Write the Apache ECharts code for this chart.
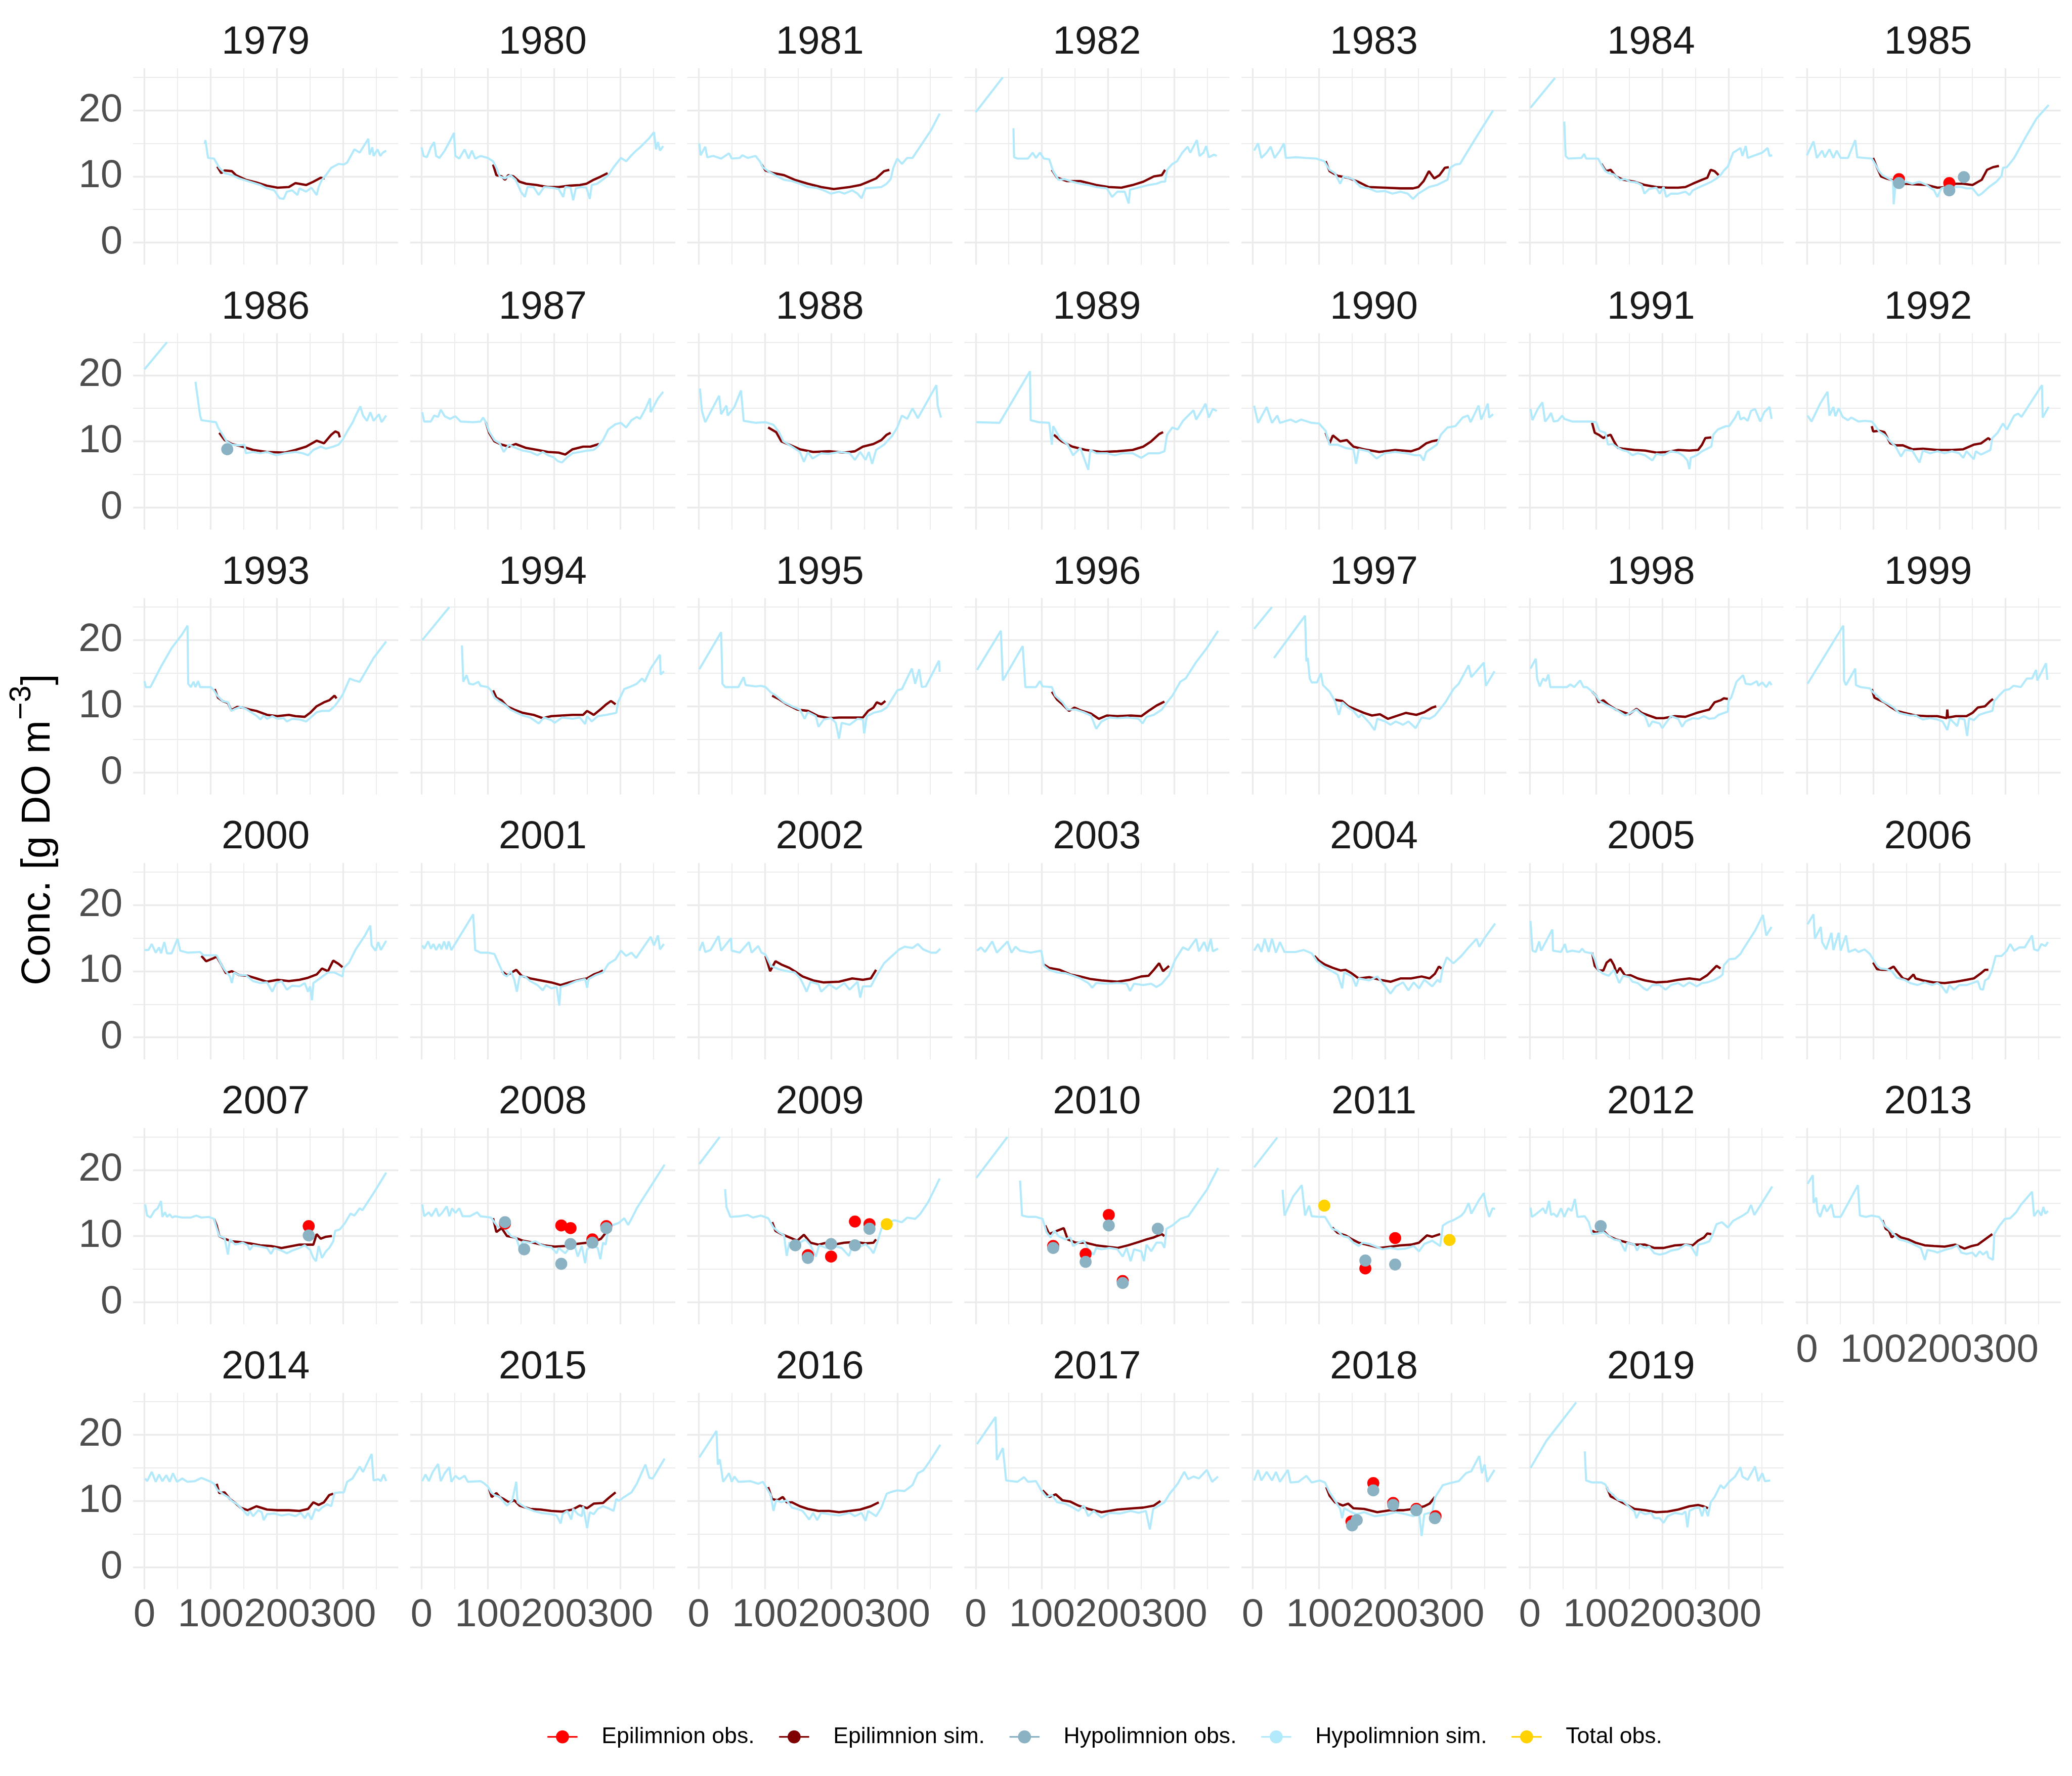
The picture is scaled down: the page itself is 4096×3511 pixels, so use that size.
<!DOCTYPE html>
<html><head><meta charset="utf-8">
<script src="https://cdn.jsdelivr.net/npm/echarts@6/dist/echarts.min.js"></script>
<style>html,body{margin:0;padding:0;background:#fff}#c{width:4096px;height:3511px}</style>
</head><body><div id="c"></div>
<script>
// ---------- DATA (day of year, g DO m-3) ----------
var years = [1979,1980,1981,1982,1983,1984,1985,1986,1987,1988,1989,1990,1991,1992,1993,1994,1995,1996,1997,1998,1999,2000,2001,2002,2003,2004,2005,2006,2007,2008,2009,2010,2011,2012,2013,2014,2015,2016,2017,2018,2019];
var xTicks = [0,100,200,300];
var xMinor = [50,150,250,350];
var yTicks = [0,10,20];
var yMinor = [5,15,25];
var seriesNames = ['Epilimnion obs.','Epilimnion sim.','Hypolimnion obs.','Hypolimnion sim.','Total obs.'];

var H1979=[[91,14.9],[92,15.5],[96,12.8],[105,12.7],[113,11.3],[121,10.5],[132,10.2],[143,9.7],[159,9.2],[175,8.7],[185,8.2],[196,7.9],[204,6.7],[210,6.6],[215,7.7],[223,7.9],[231,7.2],[234,8.2],[244,7.7],[252,8.3],[260,7.2],[263,8.4],[268,9.5],[274,10.2],[282,11.3],[293,11.9],[301,11.8],[306,12.1],[317,14.1],[325,13.6],[333,14.9],[338,15.7],[340,13.3],[344,14.4],[346,13.1],[352,14.1],[356,13.1],[360,13.6],[365,13.9]];
var E1979=[[110,11.5],[116,10.5],[121,10.9],[132,10.8],[138,10.2],[153,9.5],[169,9.1],[185,8.6],[201,8.3],[218,8.4],[228,9.0],[244,8.7],[255,9.2],[266,9.8],[272,9.7]];
var H1980=[[0,14.4],[3,13.1],[8,12.9],[14,14.4],[19,15.2],[22,13.1],[27,12.8],[35,13.9],[43,15.4],[49,16.6],[51,13.1],[57,12.7],[65,14.1],[71,12.7],[76,13.9],[81,12.7],[89,13.1],[100,12.8],[108,12.3],[113,11.3],[118,10.0],[126,9.7],[134,10.2],[142,9.5],[150,7.7],[156,6.9],[160,8.4],[169,8.4],[177,7.2],[185,8.4],[196,8.3],[207,8.1],[214,6.9],[217,8.4],[225,8.3],[229,6.4],[233,8.2],[241,8.4],[249,8.3],[254,6.6],[257,8.7],[265,8.9],[276,9.7],[282,10.2],[290,11.4],[301,12.8],[309,12.3],[316,13.1],[324,13.9],[330,14.4],[335,14.9],[343,15.7],[351,16.7],[354,14.1],[357,15.2],[360,13.9],[365,14.6]];
var E1980=[[108,11.8],[113,10.2],[121,10.0],[126,9.5],[131,10.2],[139,10.0],[148,9.2],[158,8.9],[174,8.7],[190,8.4],[207,8.4],[223,8.6],[239,8.7],[249,8.9],[260,9.5],[271,10.0],[281,10.5]];
var H1981=[[1,15.0],[3,13.2],[10,14.5],[13,12.9],[22,13.1],[34,12.7],[46,13.5],[50,12.7],[62,12.8],[66,13.2],[74,12.8],[86,13.1],[93,12.2],[97,11.4],[105,10.8],[117,10.1],[129,9.5],[141,9.3],[153,8.9],[165,8.4],[177,8.3],[189,7.9],[200,7.4],[212,7.7],[220,7.4],[232,7.9],[240,7.4],[246,6.7],[252,8.2],[264,8.3],[276,8.4],[284,8.9],[290,9.6],[294,11.3],[300,12.7],[307,11.9],[315,12.8],[323,12.8],[339,15.2],[351,17.0],[364,19.5]];
var E1981=[[95,11.8],[101,10.9],[113,10.5],[129,10.2],[145,9.5],[165,8.9],[185,8.4],[204,8.1],[228,8.4],[244,8.7],[256,9.2],[268,9.7],[280,10.8],[288,11.0]];
var H1982=[[0,19.7],[41,25.0],[42,null],[57,17.3],[58,12.9],[63,12.7],[79,12.7],[86,13.6],[91,12.8],[97,13.6],[103,12.7],[111,12.6],[117,10.8],[125,9.5],[134,9.6],[146,9.2],[158,8.9],[170,8.7],[182,8.4],[198,8.2],[206,6.9],[214,7.7],[225,7.7],[231,5.9],[233,8.0],[245,8.3],[261,8.7],[273,8.9],[281,9.2],[286,9.2],[289,11.0],[296,11.8],[304,12.3],[312,13.6],[320,14.5],[324,13.6],[334,15.5],[338,13.1],[344,13.6],[348,14.6],[352,12.9],[360,13.3],[364,13.1]];
var E1982=[[115,11.0],[123,9.8],[138,9.3],[158,9.3],[182,8.7],[201,8.4],[220,8.3],[237,8.7],[253,9.2],[269,10.0],[281,10.2],[286,11.0]];
var H1983=[[2,13.9],[8,15.0],[13,12.8],[21,13.6],[27,14.5],[33,12.8],[41,13.9],[47,15.0],[50,12.8],[65,12.9],[80,12.8],[96,12.7],[108,12.3],[116,11.0],[124,10.5],[132,8.9],[137,10.0],[151,9.6],[163,8.4],[175,8.2],[187,7.7],[199,7.8],[211,7.4],[223,7.7],[234,7.4],[242,6.6],[250,7.4],[258,7.9],[266,8.4],[278,8.7],[294,9.5],[298,11.3],[306,11.8],[313,11.9],[325,13.9],[341,16.5],[363,20.0]];
var E1983=[[110,12.3],[116,10.8],[128,10.1],[144,9.8],[159,9.2],[175,8.4],[199,8.3],[223,8.2],[242,8.2],[250,8.4],[258,9.3],[266,10.8],[274,9.7],[282,10.2],[290,11.3],[296,11.4]];
var H1984=[[1,20.4],[38,24.9],[39,null],[52,18.3],[54,13.1],[58,12.7],[78,12.8],[82,13.4],[85,12.7],[103,12.7],[108,11.8],[114,10.8],[119,10.5],[127,10.3],[136,9.5],[144,9.6],[152,9.2],[161,9.1],[169,8.7],[173,7.4],[180,8.1],[191,8.3],[196,7.4],[202,8.4],[206,6.9],[213,7.4],[224,7.4],[235,7.7],[241,7.2],[246,7.9],[254,8.3],[263,8.7],[274,9.2],[282,9.7],[288,10.2],[293,10.9],[299,11.5],[302,12.3],[307,13.6],[312,13.9],[318,14.3],[321,13.1],[326,14.6],[329,12.8],[340,13.2],[351,13.6],[359,14.3],[362,13.1],[366,13.2]];
var E1984=[[108,11.9],[115,10.8],[122,11.0],[130,10.0],[141,9.5],[158,9.2],[174,8.7],[191,8.4],[208,8.3],[224,8.3],[235,8.4],[246,8.9],[260,9.5],[268,9.8],[273,11.0],[279,10.8],[285,10.2]];
var H1985=[[0,13.2],[10,15.3],[15,12.8],[23,13.9],[27,12.9],[34,14.1],[40,12.8],[45,13.9],[51,12.8],[62,12.8],[73,15.5],[76,12.9],[87,12.8],[98,12.7],[103,11.9],[109,10.8],[114,10.2],[123,9.7],[130,9.3],[131,5.8],[134,8.9],[142,8.9],[150,9.2],[159,8.9],[170,9.2],[181,8.7],[192,7.9],[197,6.9],[203,8.2],[214,8.6],[225,8.4],[233,8.4],[241,8.2],[250,8.2],[259,7.1],[264,7.4],[275,8.4],[286,9.2],[294,10.1],[296,11.3],[302,11.4],[313,12.8],[330,15.9],[347,18.8],[365,20.8]];
var E1985=[[100,12.8],[106,11.3],[112,10.0],[120,9.7],[137,9.2],[148,8.9],[164,8.8],[181,8.7],[197,8.3],[211,8.4],[225,8.9],[236,8.9],[250,8.7],[264,9.5],[272,11.0],[281,11.4],[290,11.6]];
var EO1985=[[139,9.6],[215,9.0]];
var HO1985=[[139,9.0],[215,7.9],[237,9.9]];
var H1986=[[0,20.9],[34,25.0],[35,null],[77,19.0],[84,13.9],[86,13.2],[100,13.0],[108,12.9],[111,12.1],[118,11.0],[124,10.0],[132,9.5],[143,9.4],[151,9.5],[153,8.2],[164,8.4],[175,8.2],[185,8.4],[199,7.9],[212,8.2],[228,8.4],[239,8.2],[247,7.9],[255,8.7],[266,9.2],[274,8.9],[285,9.2],[293,9.5],[299,10.2],[306,11.5],[314,12.8],[319,13.9],[326,15.3],[330,13.9],[336,13.1],[341,14.4],[346,13.1],[354,14.1],[358,12.9],[365,13.9]];
var E1986=[[113,11.3],[121,10.2],[132,9.6],[148,9.2],[164,8.7],[185,8.4],[212,8.3],[228,8.7],[244,9.2],[260,10.1],[271,9.7],[282,11.0],[288,11.5],[293,11.3],[295,10.6]];
var HO1986=[[125,8.8]];
var H1987=[[1,14.4],[4,13.0],[14,13.0],[19,13.9],[25,13.7],[29,14.8],[35,13.8],[43,13.4],[51,13.8],[59,13.0],[78,12.9],[89,13.0],[93,13.6],[97,12.9],[102,11.5],[110,10.2],[118,9.7],[124,8.4],[132,9.5],[142,9.0],[153,8.6],[164,8.4],[175,7.9],[183,8.4],[191,7.9],[199,7.6],[206,7.0],[212,6.8],[220,7.6],[228,8.2],[239,8.4],[250,8.6],[260,8.7],[266,9.2],[274,10.2],[282,11.8],[293,12.6],[301,12.8],[309,12.1],[317,13.2],[325,13.7],[330,13.4],[338,14.9],[345,16.5],[346,14.4],[357,16.5],[365,17.5]];
var E1987=[[97,12.9],[102,11.3],[110,10.0],[121,9.5],[132,9.2],[142,9.6],[158,9.0],[175,8.7],[191,8.4],[207,8.3],[217,8.0],[228,8.8],[244,9.2],[255,9.2],[268,9.6]];
var H1988=[[2,18.0],[5,14.6],[10,12.9],[31,16.9],[34,14.1],[42,15.4],[44,13.9],[54,15.2],[64,17.7],[68,13.1],[86,12.8],[101,12.9],[113,12.5],[122,11.3],[128,10.0],[141,9.2],[153,8.4],[159,6.9],[165,8.4],[172,7.4],[185,8.2],[196,8.1],[212,8.4],[228,8.2],[236,7.2],[244,8.4],[252,7.2],[257,8.4],[262,6.6],[268,8.7],[280,9.5],[292,10.8],[300,12.1],[307,13.9],[315,13.4],[323,15.0],[331,13.5],[359,18.5],[361,15.4],[366,13.6]];
var E1988=[[105,12.1],[117,11.4],[125,10.0],[137,9.5],[153,8.8],[173,8.4],[197,8.5],[220,8.3],[236,8.5],[248,9.2],[264,9.6],[276,10.2],[284,11.0],[290,11.3]];
var H1989=[[1,12.9],[36,12.8],[82,20.6],[83,13.2],[95,12.9],[111,12.8],[115,9.5],[117,12.3],[127,10.5],[139,9.5],[147,7.9],[158,9.0],[170,5.7],[173,8.7],[182,8.2],[198,8.2],[210,7.9],[222,8.2],[237,8.2],[250,7.5],[261,8.2],[277,8.2],[285,8.5],[289,11.0],[297,12.1],[305,11.8],[313,13.1],[321,13.9],[329,14.7],[333,13.3],[341,14.6],[347,15.7],[352,13.6],[358,14.9],[364,14.6]];
var E1989=[[118,11.0],[130,10.0],[146,9.2],[166,8.7],[190,8.4],[214,8.5],[237,8.7],[253,9.2],[265,10.0],[277,11.1],[283,11.4]];
var H1990=[[2,15.4],[8,12.8],[21,15.2],[29,12.8],[37,13.9],[41,12.8],[57,13.3],[65,12.9],[73,13.3],[89,12.8],[100,12.7],[110,11.6],[116,9.5],[128,9.5],[140,9.0],[152,8.8],[156,6.6],[160,8.8],[175,8.5],[187,7.4],[199,8.2],[215,8.4],[231,8.2],[245,7.9],[253,7.9],[258,7.1],[262,8.4],[278,9.5],[284,11.0],[294,12.1],[306,12.3],[317,13.6],[325,13.9],[329,12.9],[341,15.4],[345,13.3],[355,15.7],[357,13.6],[363,14.1]];
var E1990=[[110,11.3],[116,9.7],[121,10.9],[132,10.0],[142,10.2],[152,9.2],[168,8.8],[191,8.4],[215,8.7],[239,8.5],[251,8.9],[262,9.7],[270,10.0],[280,10.2]];
var H1991=[[1,14.9],[4,13.2],[12,14.9],[19,15.9],[23,13.0],[28,13.6],[32,14.3],[36,13.0],[42,13.1],[49,13.9],[52,13.4],[64,13.0],[75,13.0],[92,13.0],[100,12.9],[105,11.6],[114,11.3],[118,9.5],[125,9.6],[130,9.2],[139,8.7],[147,8.5],[155,7.9],[163,8.2],[174,7.9],[185,7.1],[191,8.1],[202,7.9],[213,8.5],[224,8.3],[232,7.8],[238,7.1],[241,5.8],[243,7.5],[252,7.9],[260,8.5],[268,8.9],[274,9.2],[277,11.0],[284,11.8],[296,12.3],[301,12.3],[310,13.6],[315,14.6],[318,13.3],[323,13.6],[329,13.1],[334,14.6],[340,14.9],[348,13.0],[354,14.4],[362,15.2],[365,13.4]];
var E1991=[[94,12.8],[98,11.3],[104,11.0],[111,10.5],[116,10.8],[122,11.0],[127,10.0],[133,9.0],[141,8.9],[158,8.7],[174,8.6],[191,8.3],[208,8.4],[224,8.7],[241,8.6],[254,8.7],[260,9.5],[265,10.5],[274,10.6]];
var H1992=[[1,13.9],[7,13.0],[20,15.7],[31,17.5],[34,13.9],[40,15.2],[43,13.8],[48,15.0],[54,13.7],[62,13.2],[67,13.6],[78,13.0],[87,13.1],[98,13.0],[103,12.4],[109,11.5],[117,11.0],[126,10.0],[134,9.2],[142,7.7],[148,8.7],[159,8.6],[170,6.8],[175,8.6],[186,8.2],[197,8.5],[208,8.2],[219,8.5],[230,8.2],[236,7.5],[241,8.5],[252,7.3],[255,8.5],[263,8.0],[277,8.7],[280,10.5],[288,11.3],[296,12.7],[302,11.8],[313,13.9],[319,14.2],[324,13.7],[355,18.5],[356,13.6],[365,15.2]];
var E1992=[[98,12.3],[100,11.5],[109,11.6],[117,11.4],[126,9.7],[134,9.4],[145,9.4],[159,8.8],[175,8.9],[197,8.7],[219,8.7],[236,8.8],[252,9.5],[263,9.7],[274,10.5],[277,10.2]];
var H1993=[[0,13.8],[2,12.9],[9,12.9],[25,16.0],[41,18.8],[57,20.9],[65,22.2],[66,13.4],[70,12.9],[74,13.7],[77,12.9],[81,13.8],[84,12.9],[100,12.9],[105,12.4],[110,11.6],[118,10.8],[126,10.6],[131,9.3],[137,9.6],[145,9.9],[153,9.6],[161,9.1],[170,8.5],[175,8.0],[180,8.6],[185,8.1],[193,8.5],[201,8.1],[210,8.2],[215,7.7],[223,8.1],[234,8.0],[244,7.7],[250,8.2],[260,9.1],[268,9.3],[279,9.3],[287,10.0],[293,10.8],[299,11.7],[303,12.6],[310,14.2],[317,13.9],[325,13.7],[346,17.3],[365,19.8]];
var E1993=[[106,12.6],[111,11.3],[118,10.8],[126,10.5],[131,9.4],[140,9.9],[148,9.8],[159,9.5],[169,9.3],[185,8.7],[201,8.5],[218,8.7],[228,8.5],[242,8.4],[250,9.0],[260,10.0],[271,10.6],[279,10.9],[287,11.6],[290,11.2]];
var H1994=[[1,20.0],[42,25.0],[43,null],[61,19.2],[63,13.7],[68,14.7],[72,13.4],[78,13.3],[86,13.7],[89,13.1],[100,12.9],[105,12.4],[110,11.3],[118,10.7],[126,10.2],[134,9.5],[142,9.1],[153,8.6],[164,8.3],[177,7.4],[185,8.3],[196,7.9],[201,7.5],[212,8.3],[228,8.1],[239,8.3],[247,7.3],[250,8.5],[257,7.7],[266,8.5],[279,8.7],[294,9.0],[297,10.7],[306,12.6],[314,12.9],[325,13.4],[333,14.2],[337,13.7],[346,15.7],[360,17.8],[361,14.8],[366,15.3]];
var E1994=[[108,12.4],[113,11.3],[121,10.9],[129,10.0],[140,9.5],[153,9.0],[169,8.7],[183,8.2],[196,8.5],[212,8.6],[228,8.7],[244,8.7],[250,9.3],[260,8.7],[271,9.6],[279,10.3],[286,10.8],[293,10.3]];
var H1995=[[1,15.6],[34,21.2],[36,13.4],[40,12.9],[60,12.9],[68,14.4],[71,13.2],[86,13.0],[94,13.1],[101,12.9],[109,12.1],[117,11.6],[129,10.6],[141,10.0],[153,9.5],[160,8.1],[165,9.1],[177,8.5],[181,6.9],[189,8.0],[200,8.2],[207,7.5],[212,5.1],[216,7.5],[228,7.2],[240,8.1],[248,8.0],[250,5.9],[254,8.5],[264,9.0],[276,9.3],[284,9.8],[292,11.1],[300,12.4],[307,12.6],[322,15.7],[327,13.4],[333,15.6],[337,12.9],[343,13.0],[363,16.9],[364,15.2]];
var E1995=[[111,11.6],[121,11.1],[133,10.3],[149,9.5],[165,9.3],[181,8.5],[197,8.2],[212,8.3],[228,8.3],[248,8.3],[256,9.3],[264,9.8],[269,10.6],[276,10.3],[282,10.8]];
var H1996=[[2,15.5],[38,21.4],[41,13.9],[71,19.1],[75,12.9],[91,12.9],[97,13.8],[101,13.0],[115,12.9],[120,11.6],[131,10.6],[139,9.5],[151,9.5],[163,9.1],[174,8.6],[182,6.6],[190,7.7],[202,8.3],[214,8.2],[230,8.3],[246,8.1],[252,7.4],[258,8.4],[269,8.7],[281,9.5],[289,10.6],[297,11.6],[309,13.7],[317,14.2],[333,16.7],[349,18.8],[366,21.4]];
var E1996=[[115,12.2],[123,11.0],[131,10.3],[141,9.3],[149,9.8],[158,9.4],[174,8.9],[186,8.1],[198,8.6],[214,8.5],[234,8.6],[250,8.5],[261,9.3],[273,10.1],[285,10.7]];
var H1997=[[2,21.7],[29,25.0],[30,null],[32,17.3],[79,23.7],[81,16.8],[83,17.3],[86,14.2],[89,13.6],[97,13.6],[103,15.0],[106,13.2],[116,12.2],[124,10.8],[130,8.7],[135,10.6],[144,9.8],[152,9.3],[160,8.3],[164,8.8],[176,7.5],[184,6.4],[188,8.1],[200,7.7],[208,7.2],[216,7.7],[227,7.2],[235,7.7],[246,6.7],[255,8.3],[267,8.1],[275,8.6],[283,9.6],[291,10.6],[303,12.6],[311,13.4],[326,16.2],[330,14.4],[349,16.6],[352,13.1],[365,15.3]];
var E1997=[[124,11.0],[135,10.8],[144,10.0],[156,9.5],[168,9.0],[180,8.6],[192,8.8],[204,8.1],[216,8.5],[231,9.0],[247,8.7],[259,9.1],[271,9.8],[277,10.0]];
var H1998=[[1,15.7],[9,17.2],[11,14.2],[15,13.0],[20,14.2],[24,13.8],[28,14.8],[31,12.9],[42,12.9],[56,12.9],[61,13.3],[67,12.9],[76,13.9],[81,12.9],[86,12.9],[92,12.4],[100,11.6],[105,10.8],[114,10.3],[122,9.9],[130,9.5],[138,9.0],[144,8.6],[152,9.0],[161,9.5],[166,9.0],[174,8.5],[180,6.9],[185,7.7],[196,7.4],[200,6.7],[205,7.4],[213,8.5],[224,8.1],[230,6.9],[235,7.7],[246,8.2],[254,8.1],[263,8.5],[271,8.1],[279,8.2],[285,8.7],[299,9.2],[300,10.8],[304,11.3],[312,13.7],[322,14.7],[326,13.4],[334,13.3],[343,13.8],[345,13.1],[351,13.6],[357,12.9],[362,13.7],[365,13.2]];
var E1998=[[94,12.2],[100,11.6],[104,10.6],[111,10.9],[119,10.2],[130,9.5],[141,9.1],[150,8.8],[161,9.6],[169,9.0],[180,8.6],[191,8.2],[202,8.2],[219,8.5],[235,8.4],[252,9.0],[263,9.3],[271,9.5],[279,10.6],[288,10.9],[293,11.2],[299,11.1]];
var H1999=[[1,13.4],[31,18.3],[55,22.2],[56,13.9],[59,13.2],[73,15.7],[74,13.2],[81,12.9],[95,12.7],[100,12.1],[106,11.6],[114,10.8],[123,10.3],[131,9.8],[139,9.0],[147,8.8],[156,8.6],[164,8.6],[175,8.0],[186,8.2],[197,8.0],[205,7.7],[212,6.4],[216,8.1],[227,7.0],[230,8.2],[238,8.0],[242,5.5],[245,8.2],[252,7.9],[260,8.7],[269,9.0],[280,9.3],[283,10.8],[290,11.6],[298,12.4],[306,12.6],[312,13.1],[323,12.9],[332,14.2],[340,14.2],[346,15.5],[348,13.9],[361,16.5],[363,14.0]];
var E1999=[[98,12.6],[102,11.3],[108,11.0],[117,10.6],[125,10.0],[136,9.3],[147,9.0],[164,8.6],[181,8.5],[197,8.5],[211,8.2],[212,9.5],[213,8.3],[225,8.5],[241,8.5],[250,9.0],[258,9.8],[269,10.0],[276,10.7],[281,11.1]];
var H2000=[[0,13.2],[6,13.2],[11,14.1],[17,12.8],[22,13.6],[25,12.7],[30,14.4],[34,12.7],[41,12.7],[50,14.9],[54,13.1],[65,12.8],[84,12.9],[89,12.4],[100,12.4],[109,12.4],[116,11.0],[121,10.2],[129,9.2],[132,8.2],[135,9.8],[143,9.4],[153,9.4],[164,8.5],[175,8.2],[185,8.3],[193,6.9],[199,8.2],[207,8.5],[215,7.2],[223,7.8],[234,7.7],[242,8.2],[247,6.9],[250,7.7],[253,5.6],[255,8.2],[266,9.0],[277,9.8],[287,9.8],[299,9.2],[301,10.5],[309,11.3],[319,13.3],[333,15.4],[341,16.9],[343,13.9],[349,13.1],[353,14.4],[357,13.2],[365,14.6]];
var E2000=[[86,12.3],[93,11.5],[105,12.0],[109,12.2],[116,11.0],[123,9.7],[132,10.0],[143,9.4],[156,9.3],[169,8.9],[185,8.4],[201,8.7],[218,8.5],[234,8.7],[247,9.0],[260,9.5],[268,10.4],[277,10.0],[285,11.6],[293,11.1],[299,10.6]];
var H2001=[[1,13.9],[4,13.4],[10,14.5],[14,13.4],[18,14.1],[22,13.2],[27,14.1],[30,13.3],[34,14.5],[38,13.3],[41,14.5],[45,13.2],[78,18.6],[81,13.2],[89,12.8],[100,12.8],[110,12.6],[118,10.8],[124,9.5],[129,9.2],[135,10.0],[140,8.7],[144,6.9],[148,9.2],[156,9.2],[164,8.5],[175,7.9],[183,7.1],[188,7.9],[196,7.4],[204,7.6],[208,4.8],[210,7.6],[220,7.9],[234,8.5],[247,8.8],[250,7.5],[252,8.8],[263,9.4],[274,9.8],[282,11.1],[293,11.8],[301,13.1],[309,12.3],[317,12.8],[324,12.0],[335,13.6],[346,15.2],[351,13.9],[357,15.4],[360,13.3],[366,14.1]];
var E2001=[[121,10.0],[129,9.4],[143,10.2],[151,9.3],[164,8.9],[180,8.6],[196,8.3],[210,7.9],[223,8.3],[239,8.7],[250,8.9],[260,9.5],[268,9.8],[274,10.1]];
var H2002=[[1,13.1],[6,14.4],[10,12.9],[18,13.2],[30,15.3],[34,13.1],[49,15.0],[50,13.1],[62,12.8],[76,14.4],[80,12.8],[90,13.8],[95,12.8],[101,12.5],[109,10.8],[121,10.3],[133,10.0],[145,9.8],[153,9.0],[158,8.0],[163,6.9],[169,8.4],[181,8.0],[185,6.9],[197,8.0],[208,7.3],[220,8.2],[228,7.2],[240,8.4],[244,6.0],[248,7.7],[260,7.7],[268,9.2],[280,11.2],[292,12.3],[303,13.3],[311,13.7],[323,13.5],[331,14.1],[339,13.3],[351,12.8],[359,12.8],[365,13.4]];
var E2002=[[101,12.3],[108,10.0],[116,11.5],[125,11.0],[137,10.5],[145,10.0],[157,9.2],[173,8.6],[189,8.3],[212,8.4],[232,8.9],[248,8.7],[260,8.9],[268,10.2]];
var H2003=[[2,13.1],[8,13.6],[14,12.9],[25,14.5],[32,12.8],[48,14.5],[54,12.8],[60,13.7],[67,13.1],[83,12.8],[99,13.1],[103,10.8],[111,10.2],[123,9.8],[135,9.7],[147,9.3],[158,8.9],[170,8.2],[176,7.5],[182,8.2],[198,8.1],[214,8.2],[228,8.1],[233,7.0],[239,8.1],[253,7.9],[265,8.1],[273,7.6],[281,8.1],[292,9.4],[301,11.7],[313,13.6],[321,13.2],[333,14.9],[337,13.0],[345,14.4],[350,13.0],[355,14.9],[358,13.0],[366,13.4]];
var E2003=[[103,11.0],[111,10.5],[127,10.2],[143,9.5],[158,9.2],[174,8.8],[190,8.6],[214,8.4],[233,8.7],[250,9.2],[261,9.3],[269,10.2],[277,11.2],[283,10.0],[292,10.8]];
var H2004=[[2,13.1],[8,14.1],[13,12.9],[18,14.9],[24,12.9],[29,14.9],[35,12.8],[41,14.4],[48,12.9],[65,12.9],[77,13.2],[89,12.7],[97,11.5],[106,10.8],[116,10.2],[128,9.5],[135,7.4],[138,9.8],[150,9.2],[156,7.7],[160,8.9],[176,8.6],[188,9.2],[200,7.7],[208,6.6],[216,7.7],[227,8.3],[235,7.1],[243,8.3],[251,7.4],[259,8.7],[271,7.7],[279,8.7],[283,8.3],[287,10.5],[293,12.1],[303,11.2],[315,12.3],[326,13.6],[338,14.9],[342,13.7],[350,15.0],[366,17.2]];
var E2004=[[93,12.3],[101,11.5],[109,11.0],[121,10.5],[133,10.1],[140,10.2],[149,9.7],[160,8.9],[176,9.1],[192,8.7],[208,8.4],[223,8.9],[239,8.9],[255,9.2],[267,8.9],[275,9.6],[281,10.7],[285,10.4]];
var H2005=[[1,17.6],[4,13.1],[9,12.9],[14,14.5],[17,13.1],[34,16.3],[35,13.1],[47,12.9],[53,14.1],[56,12.9],[64,13.1],[75,12.9],[79,13.4],[83,12.9],[94,12.7],[98,11.8],[103,10.2],[111,9.6],[119,9.3],[127,10.2],[135,8.2],[141,9.3],[150,9.1],[155,8.4],[163,8.2],[172,7.4],[177,7.1],[185,7.9],[196,7.9],[205,7.2],[213,7.9],[224,8.2],[232,7.7],[241,8.3],[252,7.7],[260,8.2],[268,8.3],[279,8.7],[288,9.2],[291,9.5],[293,10.9],[301,11.8],[310,11.9],[318,12.6],[322,13.3],[340,16.1],[352,18.5],[357,15.4],[365,16.7]];
var E2005=[[94,12.8],[98,10.8],[104,10.1],[111,10.1],[116,11.3],[122,11.8],[127,10.9],[131,9.7],[136,10.5],[144,9.3],[152,9.4],[163,8.9],[174,8.6],[191,8.3],[208,8.4],[224,8.7],[241,8.9],[257,8.7],[268,9.4],[276,10.2],[282,10.8],[288,10.4]];
var H2006=[[1,17.1],[10,18.6],[12,14.9],[21,16.7],[23,14.4],[29,13.3],[37,15.8],[40,13.2],[48,15.8],[51,13.1],[59,15.4],[63,12.9],[73,13.3],[78,12.9],[87,13.3],[95,12.6],[100,11.8],[106,10.8],[111,10.4],[120,10.3],[128,10.0],[136,9.0],[147,8.7],[156,8.2],[167,7.9],[178,8.3],[189,7.9],[197,8.2],[203,7.8],[211,6.7],[215,7.9],[222,7.2],[230,7.9],[241,7.9],[250,8.2],[258,8.5],[262,7.3],[266,7.2],[269,8.6],[274,8.9],[279,10.0],[285,12.3],[294,12.3],[302,13.1],[307,14.1],[313,13.1],[321,13.6],[329,13.6],[332,14.1],[340,15.4],[343,13.3],[349,13.1],[354,14.1],[360,13.8],[364,14.4]];
var E2006=[[100,11.3],[106,10.3],[114,10.2],[122,10.2],[131,10.7],[136,10.0],[145,8.9],[153,8.7],[161,9.5],[164,8.9],[175,8.6],[192,8.3],[208,8.2],[225,8.4],[241,8.7],[252,8.9],[263,9.7],[269,10.2],[274,10.2]];
var H2007=[[1,14.8],[4,13.1],[9,12.8],[15,13.8],[20,14.2],[25,15.3],[27,12.9],[31,13.6],[34,12.9],[38,13.3],[42,12.8],[46,13.0],[57,12.8],[70,12.8],[78,13.1],[86,12.8],[97,12.9],[105,12.6],[109,11.2],[113,10.0],[121,9.7],[126,7.2],[129,9.5],[137,8.7],[148,9.0],[156,8.6],[159,7.9],[164,8.6],[175,8.4],[185,8.2],[191,7.3],[196,8.2],[207,7.8],[215,7.4],[223,7.8],[234,8.2],[242,8.6],[250,7.9],[255,6.7],[259,6.2],[263,8.5],[268,6.7],[274,7.7],[279,8.2],[285,9.2],[288,10.8],[295,11.0],[303,12.0],[311,13.4],[317,13.1],[325,14.2],[329,13.9],[346,16.5],[365,19.6]];
var E2007=[[105,12.6],[109,11.6],[113,10.0],[121,9.6],[132,9.2],[143,9.1],[159,8.9],[175,8.6],[191,8.5],[207,8.2],[223,8.5],[234,8.7],[250,8.7],[255,8.7],[260,10.3],[266,9.6],[274,9.9],[283,10.0]];
var EO2007=[[248,11.5]];
var HO2007=[[248,10.1]];
var H2008=[[1,14.8],[4,13.0],[11,13.6],[15,13.0],[22,14.2],[26,13.0],[31,13.5],[38,14.5],[42,13.0],[46,14.2],[51,13.5],[57,14.2],[62,13.0],[73,13.0],[84,13.6],[89,13.0],[105,12.8],[110,12.1],[116,11.3],[121,11.6],[129,10.8],[135,10.0],[143,9.7],[148,8.2],[153,9.2],[164,9.0],[172,9.2],[180,8.7],[188,8.4],[196,8.3],[204,7.4],[207,8.2],[217,7.4],[223,8.2],[231,8.6],[236,6.9],[242,8.5],[247,5.9],[250,8.0],[258,8.6],[266,8.2],[270,6.5],[274,9.0],[278,8.7],[282,11.1],[287,11.6],[298,12.0],[306,12.7],[312,11.7],[317,12.6],[325,14.2],[346,17.5],[367,20.8]];
var E2008=[[108,12.7],[113,10.6],[121,11.2],[129,10.0],[140,9.8],[153,9.3],[169,9.0],[185,8.6],[201,8.4],[217,8.5],[233,8.8],[250,9.0],[260,9.1],[271,9.6],[279,10.6]];
var EO2008=[[126,11.9],[211,11.6],[225,11.2],[258,9.5],[279,11.5]];
var HO2008=[[126,12.1],[155,8.0],[211,5.8],[225,8.8],[258,9.0],[279,11.2]];
var H2009=[[1,20.9],[32,25.0],[33,null],[40,17.1],[42,14.4],[48,12.9],[62,13.0],[74,13.2],[82,12.8],[94,13.1],[105,12.7],[113,11.3],[121,10.6],[129,10.1],[133,7.0],[137,9.0],[145,8.6],[153,9.0],[161,9.5],[169,8.6],[177,6.9],[182,8.6],[193,8.2],[204,8.5],[216,8.2],[227,7.0],[232,8.5],[244,8.4],[252,8.8],[260,8.0],[264,7.4],[269,8.8],[276,11.1],[285,12.1],[296,12.4],[307,12.1],[315,12.8],[327,12.6],[335,13.4],[347,15.2],[364,18.7]];
var E2009=[[111,12.1],[116,10.8],[125,10.3],[137,9.8],[149,9.3],[159,10.2],[169,9.0],[181,8.7],[193,9.0],[204,8.7],[220,9.0],[236,9.1],[252,8.9],[264,9.0],[268,9.5]];
var EO2009=[[165,7.1],[200,6.9],[236,12.2],[258,11.8]];
var HO2009=[[146,8.6],[165,6.7],[200,8.8],[236,8.6],[258,11.1]];
var TO2009=[[284,11.8]];
var H2010=[[1,18.8],[48,25.0],[49,null],[67,18.4],[70,13.1],[79,12.9],[91,12.9],[101,12.6],[107,10.6],[113,9.8],[119,10.8],[125,10.0],[135,9.5],[143,9.8],[147,8.5],[155,9.0],[163,9.3],[170,8.0],[178,7.2],[182,8.2],[190,8.0],[202,8.2],[214,8.0],[222,6.9],[228,8.2],[234,6.2],[239,8.0],[250,7.7],[254,6.2],[258,8.7],[265,7.7],[273,9.0],[281,9.0],[285,8.2],[288,11.1],[297,11.6],[309,12.6],[321,13.0],[349,17.0],[366,20.3]];
var E2010=[[105,11.6],[111,10.3],[123,10.8],[133,11.2],[139,9.5],[151,9.0],[166,9.0],[182,8.6],[198,8.4],[214,8.2],[230,8.6],[246,9.1],[258,9.5],[269,9.8],[281,10.3],[285,10.0]];
var EO2010=[[117,8.5],[166,7.3],[201,13.2],[222,3.2]];
var HO2010=[[117,8.2],[166,6.1],[201,11.6],[222,2.9],[275,11.1]];
var H2011=[[2,20.4],[37,24.9],[38,null],[45,17.0],[48,13.1],[61,16.0],[74,17.7],[79,13.1],[85,14.6],[89,13.0],[101,12.9],[109,12.9],[114,12.1],[120,11.1],[128,10.8],[136,10.0],[144,9.8],[152,9.0],[160,8.5],[166,9.0],[176,8.8],[184,8.5],[196,8.0],[208,8.2],[219,8.0],[231,8.1],[243,8.5],[251,7.7],[259,8.8],[271,9.3],[283,8.5],[287,11.6],[295,12.1],[303,12.4],[315,13.1],[320,13.7],[326,15.0],[330,13.4],[342,15.5],[349,16.5],[352,14.7],[357,12.9],[362,14.2],[366,14.1]];
var E2011=[[120,11.3],[128,10.5],[140,10.1],[150,9.5],[160,9.0],[176,8.6],[192,8.2],[208,8.4],[223,8.6],[239,8.7],[251,9.0],[263,10.1],[271,9.9],[283,10.3]];
var EO2011=[[170,5.1],[215,9.7]];
var HO2011=[[170,6.3],[215,5.7]];
var TO2011=[[108,14.6],[297,9.4]];
var H2012=[[1,14.3],[3,12.9],[9,13.3],[14,13.7],[20,14.2],[24,13.4],[29,15.3],[32,13.2],[36,13.4],[41,12.9],[47,14.2],[52,12.9],[58,14.2],[63,13.8],[68,15.6],[72,12.9],[83,13.0],[89,12.1],[94,10.3],[103,10.4],[111,10.6],[119,10.0],[127,9.5],[136,9.3],[144,7.7],[147,9.0],[158,8.7],[162,7.8],[166,8.6],[174,8.2],[180,8.4],[188,7.4],[196,7.2],[205,7.4],[213,7.8],[224,8.0],[235,8.7],[243,8.5],[252,7.0],[254,8.7],[263,8.9],[271,9.2],[276,10.2],[282,11.8],[290,12.1],[299,11.3],[307,12.3],[318,12.9],[323,13.2],[329,13.6],[334,14.7],[339,13.2],[366,17.5]];
var E2012=[[94,10.8],[100,10.5],[111,10.8],[119,10.0],[130,9.5],[144,9.1],[158,8.7],[174,8.7],[188,8.2],[202,8.2],[219,8.6],[235,8.7],[246,8.6],[254,9.3],[263,9.8],[268,10.4],[274,10.3]];
var HO2012=[[107,11.5]];
var H2013=[[1,17.9],[9,19.2],[10,15.0],[14,15.8],[16,13.7],[20,12.9],[26,14.7],[30,13.7],[37,14.8],[41,12.9],[51,12.9],[77,17.7],[80,13.1],[89,12.9],[98,13.1],[109,12.9],[114,12.2],[117,11.6],[123,11.1],[131,10.3],[139,9.5],[147,9.3],[156,9.0],[164,8.6],[172,8.2],[178,6.4],[182,7.9],[192,7.7],[197,7.5],[208,7.9],[219,8.2],[227,8.6],[233,7.5],[241,7.3],[250,7.5],[255,6.9],[261,7.7],[266,7.2],[272,7.7],[274,6.8],[281,6.4],[283,10.3],[291,11.6],[299,12.6],[307,12.7],[316,13.6],[323,14.7],[340,16.7],[343,13.0],[349,13.9],[354,13.1],[357,14.4],[360,13.4],[364,13.8]];
var E2013=[[114,12.4],[119,11.1],[124,10.8],[128,9.8],[134,10.3],[142,9.8],[153,9.5],[164,9.0],[178,8.6],[192,8.5],[208,8.4],[224,8.7],[238,8.1],[249,8.5],[258,8.7],[269,9.5],[280,10.3]];
var H2014=[[1,13.4],[4,13.0],[11,14.4],[17,12.9],[22,14.0],[27,13.0],[33,13.9],[38,12.9],[43,14.2],[49,12.9],[57,13.4],[65,12.9],[76,13.0],[86,13.5],[100,12.9],[105,12.6],[110,11.7],[118,11.1],[126,10.6],[132,10.0],[140,9.5],[148,8.7],[156,7.8],[159,8.5],[164,7.7],[172,8.6],[177,8.3],[180,7.1],[185,8.0],[196,8.1],[207,7.8],[218,8.0],[228,7.7],[236,8.2],[242,7.4],[247,8.2],[252,7.2],[258,8.8],[263,8.5],[268,9.0],[276,9.5],[282,9.2],[287,11.2],[295,11.3],[301,11.3],[306,12.9],[314,13.4],[325,15.2],[330,14.4],[343,17.1],[346,13.1],[353,13.3],[357,13.0],[361,14.0],[365,13.0]];
var E2014=[[109,12.6],[113,11.2],[121,11.3],[129,10.3],[137,9.7],[145,9.0],[156,8.6],[169,9.2],[185,8.7],[201,8.6],[218,8.6],[234,8.5],[247,8.8],[255,9.8],[263,9.4],[271,9.8],[279,10.9],[285,11.1]];
var H2015=[[1,13.0],[6,14.0],[11,13.0],[17,14.4],[25,15.6],[29,13.0],[35,14.2],[42,15.1],[45,12.9],[51,13.8],[57,13.3],[65,13.8],[70,12.9],[89,13.0],[94,12.7],[100,12.2],[105,11.3],[110,10.9],[118,10.6],[129,9.3],[137,10.1],[143,12.9],[145,9.8],[151,9.4],[159,8.9],[169,8.5],[180,8.2],[196,8.0],[204,7.8],[210,6.6],[213,8.0],[220,8.5],[226,7.2],[229,8.8],[236,8.0],[242,7.7],[244,9.2],[250,5.9],[254,8.3],[260,8.0],[266,8.8],[274,9.2],[282,8.9],[290,8.5],[294,10.3],[298,10.0],[306,10.6],[317,11.3],[325,12.6],[333,14.4],[338,15.5],[344,13.5],[349,13.4],[367,16.4]];
var E2015=[[102,11.8],[106,10.6],[113,11.2],[118,10.6],[124,10.3],[132,9.8],[140,10.1],[148,9.3],[164,8.8],[180,8.7],[196,8.5],[212,8.4],[228,8.7],[239,9.3],[250,8.9],[260,9.6],[274,9.7],[282,10.4],[288,10.9],[293,11.3]];
var H2016=[[1,16.6],[27,20.6],[29,15.5],[32,16.3],[37,12.9],[46,14.2],[50,12.9],[54,13.7],[60,12.9],[78,13.0],[90,12.6],[97,12.9],[103,11.9],[109,10.9],[113,8.5],[117,10.1],[125,9.8],[133,10.1],[141,9.0],[149,8.8],[157,8.5],[167,7.2],[173,8.2],[179,7.1],[185,8.2],[197,8.0],[212,7.8],[228,8.2],[236,7.7],[246,8.2],[252,7.0],[256,8.5],[268,7.7],[276,9.0],[284,11.1],[292,11.4],[300,11.6],[311,11.5],[323,12.4],[331,14.2],[339,14.6],[351,16.3],[365,18.5]];
var E2016=[[105,12.1],[111,10.3],[119,10.1],[127,10.6],[133,9.8],[141,9.8],[153,9.2],[165,8.8],[181,8.5],[197,8.5],[212,8.3],[228,8.5],[244,8.7],[260,9.2],[272,9.8]];
var H2017=[[2,18.6],[30,22.7],[32,16.2],[36,17.0],[41,18.0],[46,13.1],[63,12.9],[73,13.6],[79,12.9],[91,13.0],[99,11.6],[107,10.6],[115,10.9],[123,9.8],[135,9.6],[147,9.0],[155,8.5],[163,9.3],[170,7.7],[178,8.5],[190,7.5],[202,8.2],[218,8.1],[234,8.5],[246,8.2],[257,8.5],[263,5.7],[268,8.8],[277,9.3],[285,9.8],[293,11.1],[305,12.6],[315,14.4],[321,13.3],[329,13.7],[337,13.4],[349,14.7],[357,12.9],[366,13.7]];
var E2017=[[101,11.6],[111,10.6],[121,11.0],[131,10.1],[143,9.9],[155,9.3],[170,8.8],[190,8.3],[214,8.7],[238,8.9],[253,9.0],[269,9.3],[279,10.0]];
var H2018=[[2,13.1],[8,14.7],[13,13.1],[21,14.4],[29,13.1],[35,14.4],[41,12.9],[53,14.7],[57,12.8],[69,12.9],[81,13.8],[89,12.8],[101,13.1],[109,12.8],[116,11.3],[124,10.1],[132,8.8],[135,7.4],[138,8.9],[149,8.3],[157,8.0],[168,8.3],[184,7.7],[200,7.9],[216,8.3],[231,8.0],[243,7.7],[251,8.3],[255,4.7],[259,8.0],[271,8.3],[275,10.5],[287,12.4],[298,12.7],[311,13.0],[322,14.2],[330,14.5],[342,16.8],[346,14.2],[350,15.5],[354,12.9],[365,14.7]];
var E2018=[[111,12.1],[116,10.8],[124,9.8],[136,9.3],[144,9.6],[152,8.9],[168,8.8],[188,8.3],[208,8.6],[228,8.6],[243,8.8],[259,9.2],[267,9.6],[275,10.6]];
var EO2018=[[149,6.9],[182,12.7],[212,9.7],[247,8.8],[276,7.7]];
var HO2018=[[150,6.3],[157,7.1],[182,11.6],[212,9.4],[247,8.6],[275,7.4]];
var H2019=[[1,15.0],[25,19.1],[70,24.9],[71,null],[83,17.5],[85,13.1],[94,12.8],[108,12.8],[114,12.5],[119,11.5],[125,11.0],[133,10.2],[141,10.0],[149,9.2],[158,8.4],[161,7.4],[166,8.4],[174,8.0],[183,8.2],[188,7.4],[196,7.4],[202,6.7],[208,7.7],[219,8.2],[230,8.0],[235,8.4],[238,6.0],[241,8.5],[249,8.9],[256,9.0],[260,7.7],[264,9.1],[269,7.7],[273,9.8],[279,10.6],[288,12.4],[293,11.9],[301,12.9],[310,13.7],[318,15.1],[321,13.7],[329,13.2],[340,15.2],[345,13.0],[351,14.2],[355,13.0],[363,13.1]];
var E2019=[[116,12.1],[122,10.7],[130,10.3],[139,9.8],[147,9.4],[158,8.8],[174,8.6],[191,8.3],[208,8.4],[224,8.7],[241,9.2],[254,9.4],[262,9.2],[269,8.9]];

// ---------- LAYOUT ----------
var S = 0.991;
var FONT = "'Liberation Sans', Arial, Helvetica, sans-serif";
var PXD = 1.321, PXU = 13.19;
var XMIN = -17.2, XMAX = 383.2, YMIN = -3.35, YMAX = 26.35;
var COL0 = 288.2, COLP = 552.7, ROW0 = 483.9, ROWP = 528.45;
var COLORS = {
  'Epilimnion obs.': '#FF0000',
  'Epilimnion sim.': '#7F0000',
  'Hypolimnion obs.': '#8AB2C3',
  'Hypolimnion sim.': '#B3EAFB',
  'Total obs.': '#FFD200'
};
var GRID_COL = '#EBEBEB';

var grid = [], xAxis = [], yAxis = [], series = [], graphic = [];

function tickFormatter(list) {
  return function (v) {
    var rv = Math.round(v * 1000) / 1000;
    return list.indexOf(rv) >= 0 ? String(Math.round(v)) : '';
  };
}

years.forEach(function (yr, i) {
  var r = Math.floor(i / 7), c = i % 7;
  var x0 = COL0 + COLP * c, y0 = ROW0 + ROWP * r;
  var left = (x0 + XMIN * PXD) * S;
  var top = (y0 - YMAX * PXU) * S;
  var w = (XMAX - XMIN) * PXD * S;
  var h = (YMAX - YMIN) * PXU * S;
  grid.push({ left: left, top: top, width: w, height: h, containLabel: false });
  xAxis.push({
    type: 'value', gridIndex: i, min: XMIN, max: XMAX,
    axisLine: { show: false }, axisTick: { show: false }, splitLine: { show: false }, minorSplitLine: { show: false },
    axisLabel: {
      show: i >= 34, customValues: xTicks, showMinLabel: true, showMaxLabel: true, hideOverlap: false,
      formatter: tickFormatter(xTicks),
      fontSize: 79 * S, color: '#4D4D4D', margin: 13 * S, fontFamily: FONT
    }
  });
  yAxis.push({
    type: 'value', gridIndex: i, min: YMIN, max: YMAX,
    axisLine: { show: false }, axisTick: { show: false }, splitLine: { show: false }, minorSplitLine: { show: false },
    axisLabel: {
      show: c === 0, customValues: yTicks, showMinLabel: true, showMaxLabel: true, hideOverlap: false,
      formatter: tickFormatter(yTicks),
      fontSize: 79 * S, color: '#4D4D4D', margin: 21 * S, fontFamily: FONT
    }
  });
  // panel grid lines (ggplot theme_minimal), placed through the axes
  var ml = [];
  xTicks.forEach(function (v) { ml.push({ xAxis: v, lineStyle: { width: 3.4 * S } }); });
  xMinor.forEach(function (v) { ml.push({ xAxis: v, lineStyle: { width: 1.8 * S } }); });
  yTicks.forEach(function (v) { ml.push({ yAxis: v, lineStyle: { width: 3.4 * S } }); });
  yMinor.forEach(function (v) { ml.push({ yAxis: v, lineStyle: { width: 1.8 * S } }); });
  series.push({
    type: 'line', name: '_grid' + yr, xAxisIndex: i, yAxisIndex: i, data: [], silent: true, z: 0,
    markLine: {
      silent: true, z: 0, animation: false, symbol: ['none', 'none'], label: { show: false },
      lineStyle: { color: GRID_COL, type: 'solid' }, emphasis: { disabled: true }, data: ml
    }
  });
  function lineSeries(name, data, z, width) {
    if (!data) return;
    series.push({
      type: 'line', name: name, xAxisIndex: i, yAxisIndex: i, data: data,
      showSymbol: false, symbol: 'none', connectNulls: false, silent: true, z: z,
      color: COLORS[name], itemStyle: { color: COLORS[name] },
      lineStyle: { color: COLORS[name], width: width }, emphasis: { disabled: true }
    });
  }
  function pointSeries(name, data, z) {
    if (!data) return;
    series.push({
      type: 'scatter', name: name, xAxisIndex: i, yAxisIndex: i, data: data,
      symbol: 'circle', symbolSize: 24 * S, silent: true, z: z,
      color: COLORS[name], itemStyle: { color: COLORS[name], borderWidth: 0, opacity: 1 }, emphasis: { disabled: true }
    });
  }
  lineSeries('Epilimnion sim.', window['E' + yr], 2, 4.6 * S);
  lineSeries('Hypolimnion sim.', window['H' + yr], 3, 4.2 * S);
  pointSeries('Epilimnion obs.', window['EO' + yr], 4);
  pointSeries('Hypolimnion obs.', window['HO' + yr], 5);
  pointSeries('Total obs.', window['TO' + yr], 6);

  // facet strip title
  graphic.push({
    type: 'text', x: (x0 + (XMIN + XMAX) / 2 * PXD) * S, y: (y0 - YMAX * PXU - 51) * S, silent: true,
    style: { text: String(yr), fontSize: 79 * S, fontFamily: FONT, fill: '#1A1A1A',
      align: 'center', verticalAlign: 'middle', textAlign: 'center', textVerticalAlign: 'middle' }
  });
});

// y axis title: Conc. [g DO m^-3]
(function () {
  var ctx = document.createElement('canvas').getContext('2d');
  var fMain = 80 * S, fSup = 60 * S;
  ctx.font = fMain + 'px ' + FONT;
  var t1 = 'Conc. [g DO m', t3 = ']', t2 = '\u22123';
  var w1 = ctx.measureText(t1).width, w3 = ctx.measureText(t3).width;
  ctx.font = fSup + 'px ' + FONT;
  var w2 = ctx.measureText(t2).width + 2 * S;
  var total = w1 + w2 + w3;
  var cy = 1655 * S, cx = 77 * S;
  var start = cy + total / 2;
  function t(txt, size, x, y) {
    graphic.push({ type: 'text', x: x, y: y, rotation: Math.PI / 2, silent: true,
      style: { text: txt, fontSize: size, fontFamily: FONT, fill: '#000000',
        align: 'left', verticalAlign: 'middle', textAlign: 'left', textVerticalAlign: 'middle' } });
  }
  t(t1, fMain, cx, start);
  t(t2, fSup, cx - 33 * S, start - w1 - 1 * S);
  t(t3, fMain, cx, start - w1 - w2);
})();

var ICON = 'path://M0,11.3L60,11.3L60,14.7L0,14.7Z M30,0A13,13,0,1,1,30,26A13,13,0,1,1,30,0Z';

var option = {
  animation: false,
  backgroundColor: '#FFFFFF',
  textStyle: { fontFamily: FONT },
  grid: grid, xAxis: xAxis, yAxis: yAxis, series: series, graphic: graphic,
  legend: {
    left: 1087 * S, top: 3437 * S, orient: 'horizontal',
    itemWidth: 60 * S, itemHeight: 26 * S, itemGap: 49 * S, selectedMode: false,
    textStyle: { fontSize: 45 * S, color: '#000000', fontFamily: FONT, padding: [0, 0, 0, 43 * S] },
    data: seriesNames.map(function (n) { return { name: n, icon: ICON, itemStyle: { color: COLORS[n], borderWidth: 0 } }; })
  }
};

var chart = echarts.init(document.getElementById('c'), null, { renderer: 'canvas', width: 4096, height: 3511 });
chart.setOption(option);
</script>
</body></html>
